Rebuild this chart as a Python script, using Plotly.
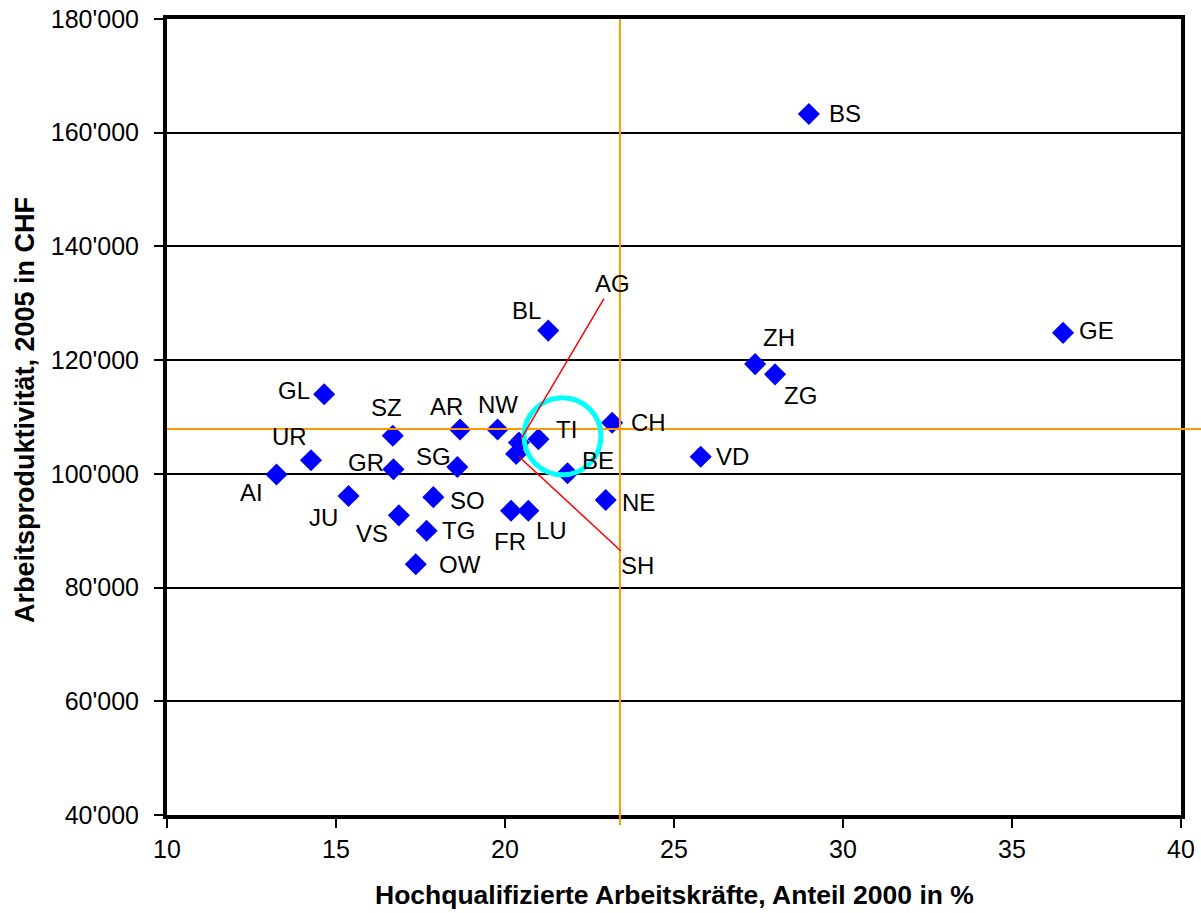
import plotly.graph_objects as go

# ---------------- data ----------------
cantons = ["BS", "GE", "ZH", "ZG", "VD", "CH", "TI", "BE", "NE", "LU", "FR", "BL", "NW",
           "AR", "SZ", "GL", "UR", "GR", "SG", "AI", "JU", "VS", "SO", "TG", "OW", "AG", "SH"]
share_high_qual = [28.99, 36.51, 27.40, 27.99, 25.79, 23.17, 20.99, 21.85, 22.98, 20.69, 20.18, 21.28, 19.78,
                   18.67, 16.68, 14.65, 14.26, 16.70, 18.59, 13.24, 15.37, 16.86, 17.88, 17.68, 17.36, 20.41, 20.33]
productivity = [163300, 124800, 119300, 117500, 103000, 109000, 106100, 100100, 95400, 93500, 93500, 125200, 107800,
                107800, 106700, 114000, 102400, 100800, 101200, 99900, 96100, 92700, 95900, 90000, 84100, 105500, 103500]
ref_share = 23.4        # vertical orange reference line
ref_productivity = 107900  # horizontal orange reference line
highlight = "TI"

x_title = "Hochqualifizierte Arbeitskräfte, Anteil 2000 in %"
y_title = "Arbeitsproduktivität, 2005 in CHF"

# ---------------- styling ----------------
FONT = "Liberation Sans, Arial, sans-serif"
# label offsets in pixels (dx right, dy down)
label_offsets = {
    "BS": (36, 0), "GE": (33, -2), "ZH": (24, -27), "ZG": (25, 21), "VD": (32, 0),
    "CH": (36, 0), "TI": (28, -10), "BE": (30, -13), "NE": (33, 2), "LU": (23, 20),
    "FR": (-1, 31), "BL": (-22, -20), "NW": (0, -25), "AR": (-14, -23), "SZ": (-6, -28),
    "GL": (-30, -4), "UR": (-21, -24), "GR": (-27, -7), "SG": (-24, -11), "AI": (-25, 18),
    "JU": (-25, 21), "VS": (-27, 18), "SO": (34, 3), "TG": (32, 0), "OW": (44, 0),
}
leader_offsets = {"AG": (94, -159), "SH": (121, 112)}

W, H = 1201, 913
L, T = 167, 19
PLOT_W, PLOT_H = 1014, 796
R = W - L - PLOT_W
B = H - T - PLOT_H

fig = go.Figure()
fig.add_trace(go.Scatter(
    x=share_high_qual, y=productivity, mode="markers",
    marker=dict(symbol="diamond", size=17, color="#0000FF", line=dict(width=0)),
    text=cantons, hoverinfo="text+x+y", showlegend=False,
))

annotations = []
for c, xv, yv in zip(cantons, share_high_qual, productivity):
    if c in label_offsets:
        dx, dy = label_offsets[c]
        annotations.append(dict(x=xv, y=yv, xref="x", yref="y", text=c, showarrow=False,
                                xshift=dx, yshift=-dy,
                                font=dict(family=FONT, size=24, color="black")))
    elif c in leader_offsets:
        dx, dy = leader_offsets[c]
        annotations.append(dict(x=xv, y=yv, xref="x", yref="y", text=c, showarrow=True,
                                ax=dx, ay=dy, axref="pixel", ayref="pixel",
                                arrowhead=0, arrowwidth=1.5, arrowcolor="#FF0000", standoff=4,
                                font=dict(family=FONT, size=24, color="black")))

# axis titles
annotations.append(dict(text=f"<b>{x_title}</b>", xref="paper", yref="paper", x=0.5, y=0,
                        yshift=-80, showarrow=False, xanchor="center", yanchor="middle",
                        font=dict(family=FONT, size=26.5, color="black")))
annotations.append(dict(text=f"<b>{y_title}</b>", xref="paper", yref="paper", x=0, y=0.5,
                        xshift=-142, yshift=7, textangle=-90, showarrow=False,
                        xanchor="center", yanchor="middle",
                        font=dict(family=FONT, size=27, color="black")))

hi_idx = cantons.index(highlight)
shapes = [
    dict(type="line", xref="x", yref="paper", x0=ref_share, x1=ref_share, y0=-10 / PLOT_H, y1=1,
         line=dict(color="#FF9900", width=2), layer="above"),
    dict(type="line", xref="paper", yref="y", x0=0, x1=(W - L) / PLOT_W,
         y0=ref_productivity, y1=ref_productivity,
         line=dict(color="#FF9900", width=2), layer="above"),
    dict(type="circle", xref="x", yref="y", xsizemode="pixel", ysizemode="pixel",
         xanchor=share_high_qual[hi_idx], yanchor=productivity[hi_idx],
         x0=24 - 38.5, x1=24 + 38.5, y0=3 - 38.5, y1=3 + 38.5,
         line=dict(color="#00FFFF", width=5), layer="above"),
]

fig.update_layout(
    width=W, height=H,
    margin=dict(l=L, r=R, t=T, b=B, autoexpand=False),
    paper_bgcolor="white", plot_bgcolor="white",
    separators=".'",
    font=dict(family=FONT, size=25, color="black"),
    annotations=annotations, shapes=shapes,
    xaxis=dict(range=[10, 40], dtick=5, tick0=10, showgrid=False, zeroline=False,
               showline=True, linecolor="black", linewidth=4, mirror=True,
               ticks="outside", ticklen=9, tickwidth=1.5, tickcolor="black",
               ticklabeloverflow="allow",
               tickfont=dict(family=FONT, size=25, color="black"), automargin=False),
    yaxis=dict(range=[40000, 180000], dtick=20000, tick0=40000, tickformat=",d",
               showgrid=True, gridcolor="black", gridwidth=1.5, zeroline=False,
               showline=True, linecolor="black", linewidth=4, mirror=True,
               ticks="outside", ticklen=9, tickwidth=1.5, tickcolor="black",
               ticklabelstandoff=10, ticklabeloverflow="allow",
               tickfont=dict(family=FONT, size=25, color="black"), automargin=False),
)

# remove the default page margin so the figure fills the window exactly
fig.write_html("out.html",
               config={"displayModeBar": False},
               post_script="document.body.style.margin='0';document.body.style.overflow='hidden';")
